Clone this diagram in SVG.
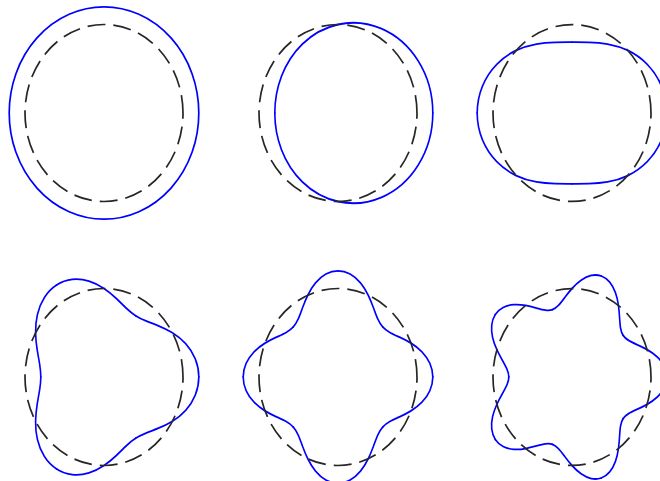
<svg xmlns="http://www.w3.org/2000/svg" xmlns:xlink="http://www.w3.org/1999/xlink" width="660" height="481" viewBox="0 0 660 481">
<style>
.ref{fill:none;stroke:#262626;stroke-width:1.7;stroke-dasharray:18 8}
.m{fill:none;stroke:#0000ff;stroke-width:2.05;stroke-linecap:round;stroke-linejoin:round}
.m0{fill:none;stroke:#0000ff;stroke-width:1.7}
</style>
<defs>
<path id="s1" class="m" d="M120,0C120,20.944 113.353,41.8 101.603,58.66C89.853,75.52 73.138,88.282 55,95.263C36.862,102.244 17.453,103.491 0,100C-17.453,96.509 -32.908,88.414 -45,77.942C-57.092,67.47 -65.899,54.71 -71.603,41.34C-77.307,27.97 -80,13.963 -80,0"/>
<path id="s2" class="m" d="M120,0C120,10.472 117.659,20.927 113.323,30.365C108.987,39.803 102.681,48.198 95.263,55C87.845,61.802 79.35,67.009 70.711,70.711C62.072,74.413 53.313,76.633 45,77.942C36.687,79.251 28.82,79.68 21.399,79.862C13.978,80.044 6.981,80 0,80"/>
<path id="s3" class="m" d="M120,0C120,6.981 118.442,13.954 115.538,20.373C112.634,26.792 108.396,32.642 103.366,37.622C98.336,42.602 92.535,46.707 86.603,50C80.671,53.293 74.625,55.783 68.944,57.851C63.263,59.919 57.952,61.581 53.145,63.336C48.338,65.091 44.031,66.955 40,69.282"/>
<path id="s4" class="m" d="M120,0C120,5.236 118.716,10.465 116.317,15.313C113.918,20.161 110.414,24.616 106.252,28.47C102.09,32.324 97.283,35.573 92.388,38.268C87.493,40.963 82.524,43.111 77.942,45C73.36,46.889 69.175,48.532 65.594,50.332C62.013,52.132 59.037,54.101 56.569,56.569"/>
<path id="s5" class="m" d="M120,0C120,4.189 118.842,8.372 116.678,12.263C114.514,16.154 111.351,19.743 107.596,22.87C103.841,25.997 99.505,28.661 95.106,30.902C90.707,33.143 86.259,34.966 82.219,36.606C78.179,38.246 74.558,39.713 71.603,41.34C68.648,42.967 66.362,44.764 64.721,47.023"/>
</defs>

<g id="panel-n0">
<ellipse class="m0" cx="104" cy="113" rx="94.8" ry="106.2"/>
<path class="ref" d="M183,113A79,88.5 0 0 0 25,113A79,88.5 0 0 0 183,113"/>
</g>

<g id="panel-n1">
<g transform="translate(338,113) scale(0.79,-0.885)">
<use xlink:href="#s1"/>
<use xlink:href="#s1" transform="scale(1,-1)"/>
</g>
<path class="ref" d="M417,113A79,88.5 0 0 0 259,113A79,88.5 0 0 0 417,113"/>
</g>

<g id="panel-n2">
<g transform="translate(572,113) scale(0.79,-0.885)">
<use xlink:href="#s2"/>
<use xlink:href="#s2" transform="scale(1,-1)"/>
<use xlink:href="#s2" transform="rotate(180)"/>
<use xlink:href="#s2" transform="rotate(180) scale(1,-1)"/>
</g>
<path class="ref" d="M651,113A79,88.5 0 0 0 493,113A79,88.5 0 0 0 651,113"/>
</g>

<g id="panel-n3">
<g transform="translate(104,377) scale(0.79,-0.885)">
<use xlink:href="#s3"/>
<use xlink:href="#s3" transform="scale(1,-1)"/>
<use xlink:href="#s3" transform="rotate(120)"/>
<use xlink:href="#s3" transform="rotate(120) scale(1,-1)"/>
<use xlink:href="#s3" transform="rotate(240)"/>
<use xlink:href="#s3" transform="rotate(240) scale(1,-1)"/>
</g>
<path class="ref" d="M183,377A79,88.5 0 0 0 25,377A79,88.5 0 0 0 183,377"/>
</g>

<g id="panel-n4">
<g transform="translate(338,377) scale(0.79,-0.885)">
<use xlink:href="#s4"/>
<use xlink:href="#s4" transform="scale(1,-1)"/>
<use xlink:href="#s4" transform="rotate(90)"/>
<use xlink:href="#s4" transform="rotate(90) scale(1,-1)"/>
<use xlink:href="#s4" transform="rotate(180)"/>
<use xlink:href="#s4" transform="rotate(180) scale(1,-1)"/>
<use xlink:href="#s4" transform="rotate(270)"/>
<use xlink:href="#s4" transform="rotate(270) scale(1,-1)"/>
</g>
<path class="ref" d="M417,377A79,88.5 0 0 0 259,377A79,88.5 0 0 0 417,377"/>
</g>

<g id="panel-n5">
<g transform="translate(572,377) scale(0.79,-0.885)">
<use xlink:href="#s5"/>
<use xlink:href="#s5" transform="scale(1,-1)"/>
<use xlink:href="#s5" transform="rotate(72)"/>
<use xlink:href="#s5" transform="rotate(72) scale(1,-1)"/>
<use xlink:href="#s5" transform="rotate(144)"/>
<use xlink:href="#s5" transform="rotate(144) scale(1,-1)"/>
<use xlink:href="#s5" transform="rotate(216)"/>
<use xlink:href="#s5" transform="rotate(216) scale(1,-1)"/>
<use xlink:href="#s5" transform="rotate(288)"/>
<use xlink:href="#s5" transform="rotate(288) scale(1,-1)"/>
</g>
<path class="ref" d="M651,377A79,88.5 0 0 0 493,377A79,88.5 0 0 0 651,377"/>
</g>
</svg>
